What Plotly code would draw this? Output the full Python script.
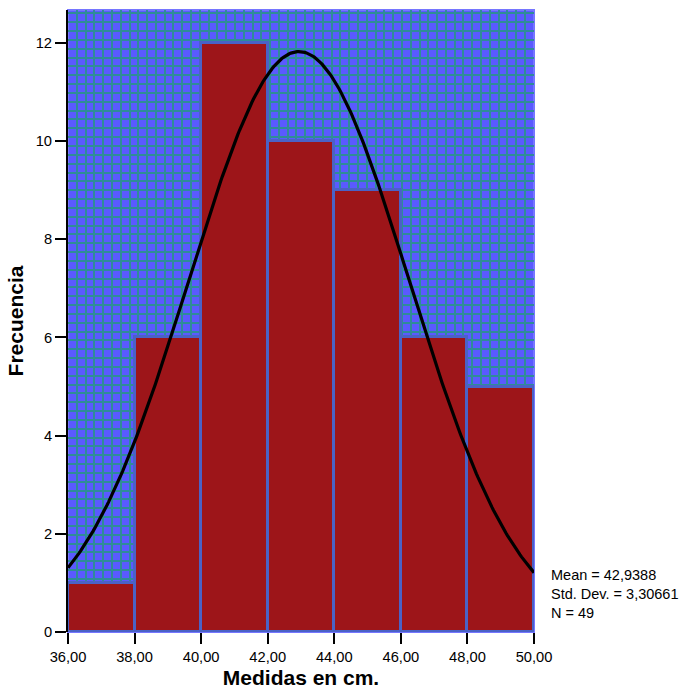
import numpy as np
import plotly.graph_objects as go

# Histogram of measurements (bin width 2 cm)
bin_starts = [36, 38, 40, 42, 44, 46, 48]
bin_width = 2
counts = [1, 6, 12, 10, 9, 6, 5]

# Summary statistics
mean = 42.9388
std_dev = 3.30661
n_obs = 49

x_ticks = [36, 38, 40, 42, 44, 46, 48, 50]
y_ticks = [0, 2, 4, 6, 8, 10, 12]

centers = [s + bin_width / 2 for s in bin_starts]


def comma(value, decimals):
    return f"{value:.{decimals}f}".replace(".", ",")


# Fitted normal curve scaled to counts
xs = np.linspace(36, 50, 300)
ys = n_obs * bin_width / (std_dev * np.sqrt(2 * np.pi)) * np.exp(-0.5 * ((xs - mean) / std_dev) ** 2)

fig = go.Figure()
fig.add_trace(go.Bar(
    x=centers, y=counts, width=bin_width,
    marker=dict(color="#9d1519", line=dict(color="#4a62c6", width=3)),
    hoverinfo="skip",
))
fig.add_trace(go.Scatter(
    x=xs, y=ys, mode="lines",
    line=dict(color="black", width=3.2),
    hoverinfo="skip",
))

fig.add_annotation(
    x=1.032, y=0.061, xref="paper", yref="paper",
    xanchor="left", yanchor="middle", align="left", showarrow=False,
    text=f"Mean = {comma(mean, 4)}"
         + f"<br>Std. Dev. = {comma(std_dev, 5)}"
         + f"<br>N = {n_obs}",
    font=dict(family="Liberation Sans, Arial", size=14.5, color="black"),
)

# Light frame around the plotting area
fig.add_shape(
    type="rect", xref="paper", yref="paper", x0=0, x1=1, y0=0, y1=1,
    line=dict(color="#7676ff", width=2), layer="below",
)

grid_color = "#2f8c98"
fig.update_layout(
    width=685, height=691,
    margin=dict(l=68, r=151, t=10, b=59),
    paper_bgcolor="white",
    plot_bgcolor="#5a5aff",
    showlegend=False,
    bargap=0,
    separators=",.",
    font=dict(family="Liberation Sans, Arial", color="black"),
    xaxis=dict(
        range=[36, 50], tickvals=x_ticks, tickformat=".2f",
        showgrid=False, zeroline=False, showline=False,
        ticks="outside", ticklen=11, tickwidth=2, tickcolor="black",
        tickfont=dict(size=14.7),
        title=dict(text="<b>Medidas en cm.</b>", font=dict(size=21), standoff=6),
        minor=dict(dtick=0.264, tick0=36, showgrid=True, gridcolor=grid_color, gridwidth=1.5),
        layer="below traces",
        automargin=False,
    ),
    yaxis=dict(
        range=[0, 12.67], tickvals=y_ticks,
        showgrid=False, zeroline=False,
        showline=True, linecolor="black", linewidth=2,
        ticks="outside", ticklen=11, tickwidth=2, tickcolor="black",
        tickfont=dict(size=14.7),
        title=dict(text="<b>Frecuencia</b>", font=dict(size=21), standoff=6),
        minor=dict(dtick=0.18, tick0=0, showgrid=True, gridcolor=grid_color, gridwidth=1.5),
        layer="below traces",
        automargin=False,
    ),
)

fig.write_html("out.html")
